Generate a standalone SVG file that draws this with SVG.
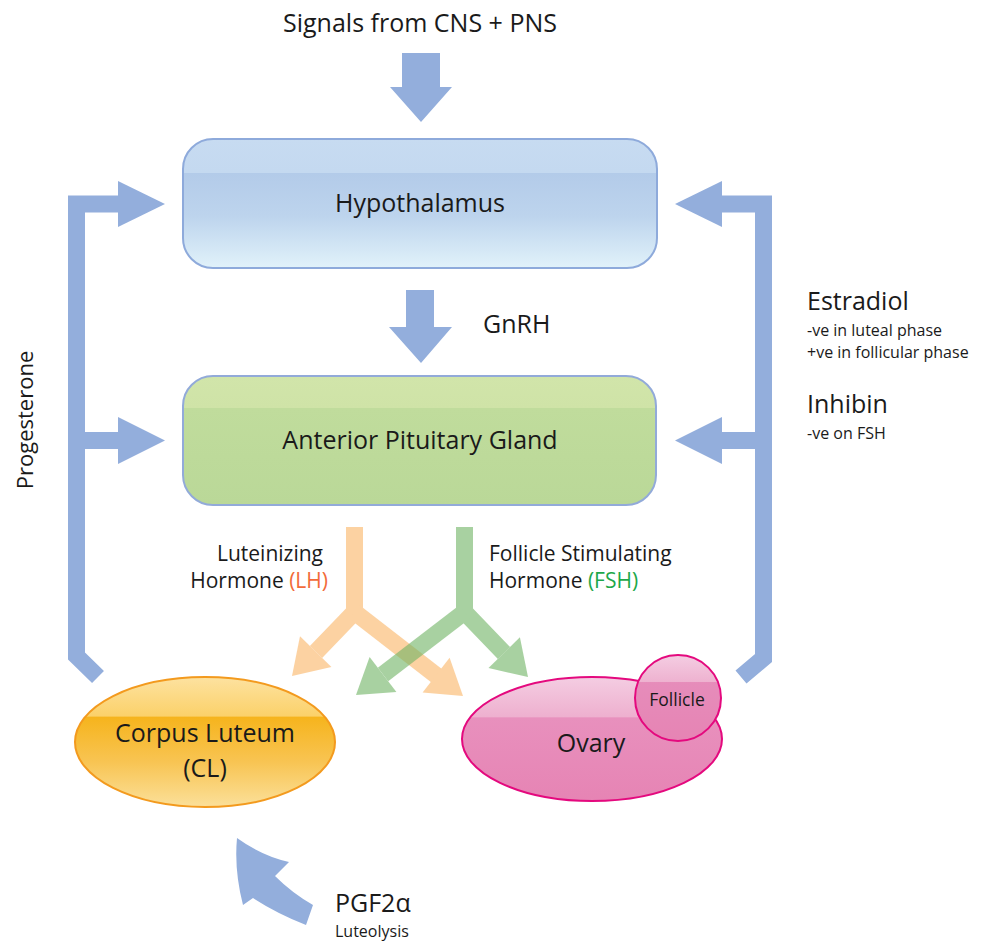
<svg xmlns="http://www.w3.org/2000/svg" width="992" height="947" viewBox="0 0 992 947">
<defs>
<linearGradient id="gHyp" x1="0" y1="0" x2="0" y2="1">
<stop offset="0" stop-color="#c7dbf1"/><stop offset="0.26" stop-color="#c4d9f0"/>
<stop offset="0.265" stop-color="#b3cbe9"/><stop offset="0.6" stop-color="#bdd4ed"/><stop offset="1" stop-color="#e1f2fa"/>
</linearGradient>
<linearGradient id="gPit" x1="0" y1="0" x2="0" y2="1">
<stop offset="0" stop-color="#d1e5aa"/><stop offset="0.245" stop-color="#cfe3a7"/>
<stop offset="0.25" stop-color="#c0dc9c"/><stop offset="1" stop-color="#bad898"/>
</linearGradient>
<linearGradient id="gCL" x1="0" y1="0" x2="0" y2="1">
<stop offset="0" stop-color="#fde2a0"/><stop offset="0.3" stop-color="#fbd16a"/>
<stop offset="0.31" stop-color="#f6b41d"/><stop offset="0.65" stop-color="#f8c452"/><stop offset="1" stop-color="#fbe09a"/>
</linearGradient>
<linearGradient id="gOv" x1="0" y1="0" x2="0" y2="1">
<stop offset="0" stop-color="#f4cde2"/><stop offset="0.32" stop-color="#eeb0cf"/>
<stop offset="0.33" stop-color="#e890bd"/><stop offset="1" stop-color="#e684b4"/>
</linearGradient>
<linearGradient id="gFol" x1="0" y1="0" x2="0" y2="1">
<stop offset="0" stop-color="#f4cde2"/><stop offset="0.31" stop-color="#eeb2d0"/>
<stop offset="0.32" stop-color="#e68cba"/><stop offset="1" stop-color="#e684b4"/>
</linearGradient>
<style>
text{font-family:"Open Sans","Liberation Sans",sans-serif;fill:#1a1a1a}
.big{font-size:25px}
.mid{font-size:21px}
.sm{font-size:16px}
.blue{fill:#93aedc}
.bline{fill:none;stroke:#93aedc;stroke-width:17}
.or{fill:#fbb565}
.orl{fill:none;stroke:#fbb565;stroke-width:17}
.gr{fill:#6fb463}
.grl{fill:none;stroke:#6fb463;stroke-width:17}
</style>
</defs>

<g id="connectors">
<!-- top signal arrow -->
<polygon class="blue" points="402,53 440,53 440,87 452,87 421,122 390,87 402,87"/>
<!-- GnRH arrow -->
<polygon class="blue" points="406,290 434,290 434,327 452,327 421,363 389,327 406,327"/>
<!-- progesterone feedback -->
<polyline class="bline" points="120,204 76.5,204 76.5,656 98,677"/>
<line class="bline" x1="76.5" y1="440.5" x2="120" y2="440.5"/>
<polygon class="blue" points="118,181 165,204 118,227"/>
<polygon class="blue" points="118,417 165,440.5 118,464"/>
<!-- estradiol / inhibin feedback -->
<polyline class="bline" points="720,204 763.5,204 763.5,658 741,677"/>
<line class="bline" x1="763.5" y1="440.5" x2="720" y2="440.5"/>
<polygon class="blue" points="722,181 675,204 722,227"/>
<polygon class="blue" points="722,417 675,440.5 722,464"/>
<!-- LH -->
<g opacity="0.6">
<polyline class="orl" points="354.5,527 354.5,612 316,652"/>
<polyline class="orl" points="354.5,612 437,676"/>
<polygon class="or" points="292,676 331.4,667.1 300,636.3"/>
<polygon class="or" points="463,696 422.6,692.6 449.6,657.8"/>
</g>
<!-- FSH -->
<g opacity="0.6">
<polyline class="grl" points="464.5,527 464.5,612 504,653"/>
<polyline class="grl" points="464.5,612 383,674.5"/>
<polygon class="gr" points="528,677 488.5,668.1 519.9,637.3"/>
<polygon class="gr" points="356,695 396.4,691.9 369.6,656.9"/>
</g>
<!-- PGF2a -->
<path class="blue" d="M237,838 Q262,856 289,862 L275,876 Q292,893 313,905 L306,925 Q276,913 253,898 L243,905 Q234,870 237,838 Z"/>
</g>

<g id="hypothalamus">
<rect x="183" y="139" width="474" height="129" rx="30" fill="url(#gHyp)" stroke="#8eaadb" stroke-width="2"/>
<text class="big" x="420" y="212" text-anchor="middle">Hypothalamus</text>
</g>

<g id="pituitary">
<rect x="183" y="376" width="473" height="129" rx="30" fill="url(#gPit)" stroke="#92aad9" stroke-width="2"/>
<text class="big" x="420" y="449" text-anchor="middle">Anterior Pituitary Gland</text>
</g>

<g id="corpus-luteum">
<ellipse cx="205" cy="742" rx="130" ry="65" fill="url(#gCL)" stroke="#f39a1e" stroke-width="2"/>
<text class="big" x="205" y="742" text-anchor="middle">Corpus Luteum</text>
<text class="big" x="205" y="777" text-anchor="middle">(CL)</text>
</g>

<g id="ovary">
<ellipse cx="592" cy="739" rx="130" ry="62" fill="url(#gOv)" stroke="#e4097e" stroke-width="2"/>
<text class="big" x="591" y="752" text-anchor="middle">Ovary</text>
</g>

<g id="follicle">
<circle cx="678" cy="698" r="43" fill="url(#gFol)" stroke="#e4097e" stroke-width="2"/>
<text x="677" y="706" text-anchor="middle" font-size="17.5">Follicle</text>
</g>

<g id="labels">
<text class="big" x="420" y="32" text-anchor="middle">Signals from CNS + PNS</text>
<text class="big" x="483" y="333">GnRH</text>
<text class="mid" x="323" y="561" text-anchor="end">Luteinizing</text>
<text class="mid" x="328" y="588" text-anchor="end">Hormone <tspan fill="#f26b3a">(LH)</tspan></text>
<text class="mid" x="489" y="561">Follicle Stimulating</text>
<text class="mid" x="489" y="588">Hormone <tspan fill="#1ea84a">(FSH)</tspan></text>
<text class="big" x="807" y="310">Estradiol</text>
<text class="sm" x="807" y="336">-ve in luteal phase</text>
<text class="sm" x="807" y="358">+ve in follicular phase</text>
<text class="big" x="807" y="413">Inhibin</text>
<text class="sm" x="807" y="439">-ve on FSH</text>
<text class="big" x="335" y="912">PGF2α</text>
<text class="sm" x="335" y="937">Luteolysis</text>
<text transform="translate(33,420) rotate(-90)" text-anchor="middle" font-size="22">Progesterone</text>
</g>
</svg>
